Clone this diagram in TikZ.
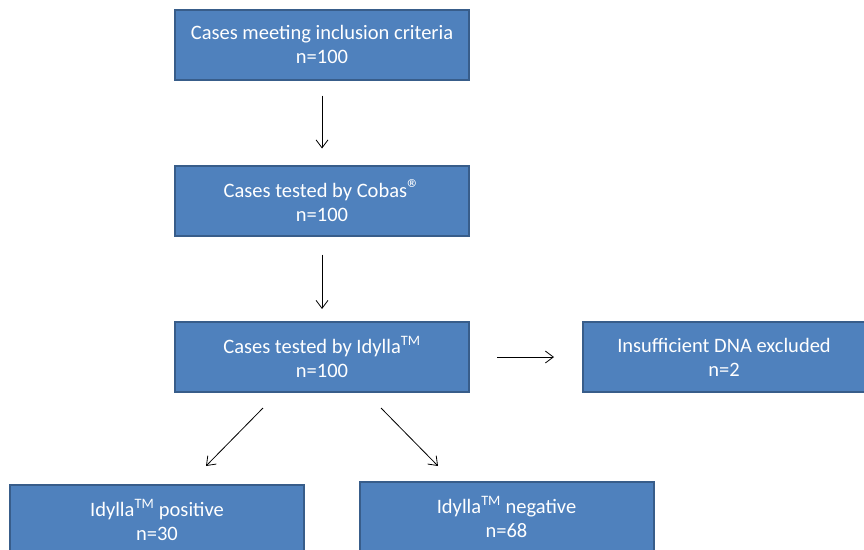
\documentclass[tikz,border=0pt]{standalone}
\usepackage{fontspec}
\setmainfont{Carlito}
\usetikzlibrary{arrows.meta}
\definecolor{boxfill}{HTML}{4F81BD}
\definecolor{boxline}{HTML}{385D8A}
\begin{document}
\begin{tikzpicture}[x=1pt,y=-1pt,
  box/.style={draw=boxline, line width=2pt, fill=boxfill, text=white, minimum width=294pt, minimum height=70pt, align=center, font=\fontsize{20.5}{24}\selectfont, inner sep=0pt},
  arr/.style={-{Straight Barb[length=8pt,width=12pt]}, line width=0.8pt, black}]
\useasboundingbox (0,0) rectangle (864,549);
\node[box] (b1) at (322,44.5) {Cases meeting inclusion criteria\\n=100};
\node[box] (b2) at (322,200.5) {Cases tested by Cobas{\fontsize{26}{24}\selectfont ®}\\n=100};
\node[box] (b3) at (322,357) {Cases tested by Idylla\textsuperscript{TM}\\n=100};
\node[box, minimum width=282pt] (b4) at (724,357) {Insufficient DNA excluded\\n=2};
\node[box] (b5) at (157,520) {Idylla\textsuperscript{TM} positive\\n=30};
\node[box] (b6) at (506.5,517) {Idylla\textsuperscript{TM} negative\\n=68};
\coordinate (p1) at (263,408);
\coordinate (p2) at (206,466);
\coordinate (q1) at (381,408);
\coordinate (q2) at (438,466);
\draw[arr, shorten <=15pt, shorten >=16pt] (b1) -- (b2);
\draw[arr, shorten <=18pt, shorten >=12pt] (b2) -- (b3);
\draw[arr, shorten <=27pt, shorten >=28pt] (b3) -- (b4);
\draw[arr] (p1) -- (p2);
\draw[arr] (q1) -- (q2);
\end{tikzpicture}
\end{document}
